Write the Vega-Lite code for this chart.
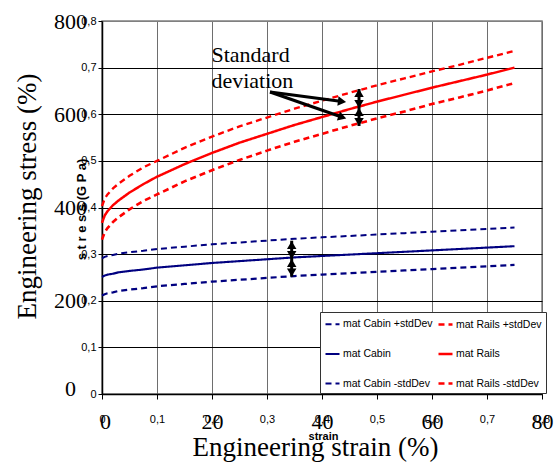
{
  "$schema": "https://vega.github.io/schema/vega-lite/v6.json",
  "width": 440,
  "height": 373,
  "autosize": {"type": "none"},
  "padding": {"left": 102, "top": 21, "right": 14, "bottom": 80},
  "background": "white",
  "config": {
    "view": {"stroke": "#808080", "strokeWidth": 1.5},
    "axis": {"labelColor": "black", "titleColor": "black", "domainColor": "black", "tickColor": "black", "gridOpacity": 1}
  },
  "resolve": {"axis": {"x": "independent", "y": "independent"}},
  "layer": [
    {
      "data": {"values": [
        {"e": 0, "mat Cabin +stdDev": 0.291, "mat Rails +stdDev": 0.403, "mat Cabin": 0.251, "mat Rails": 0.367, "mat Cabin -stdDev": 0.211, "mat Rails -stdDev": 0.331},
        {"e": 0.005, "mat Cabin +stdDev": 0.294, "mat Rails +stdDev": 0.419, "mat Cabin": 0.254, "mat Rails": 0.383, "mat Cabin -stdDev": 0.214, "mat Rails -stdDev": 0.347},
        {"e": 0.01, "mat Cabin +stdDev": 0.296, "mat Rails +stdDev": 0.428, "mat Cabin": 0.256, "mat Rails": 0.392, "mat Cabin -stdDev": 0.216, "mat Rails -stdDev": 0.356},
        {"e": 0.02, "mat Cabin +stdDev": 0.298, "mat Rails +stdDev": 0.441, "mat Cabin": 0.258, "mat Rails": 0.405, "mat Cabin -stdDev": 0.218, "mat Rails -stdDev": 0.369},
        {"e": 0.03, "mat Cabin +stdDev": 0.301, "mat Rails +stdDev": 0.451, "mat Cabin": 0.261, "mat Rails": 0.415, "mat Cabin -stdDev": 0.221, "mat Rails -stdDev": 0.379},
        {"e": 0.05, "mat Cabin +stdDev": 0.304, "mat Rails +stdDev": 0.468, "mat Cabin": 0.264, "mat Rails": 0.432, "mat Cabin -stdDev": 0.224, "mat Rails -stdDev": 0.396},
        {"e": 0.075, "mat Cabin +stdDev": 0.307, "mat Rails +stdDev": 0.486, "mat Cabin": 0.267, "mat Rails": 0.450, "mat Cabin -stdDev": 0.227, "mat Rails -stdDev": 0.414},
        {"e": 0.1, "mat Cabin +stdDev": 0.311, "mat Rails +stdDev": 0.500, "mat Cabin": 0.271, "mat Rails": 0.466, "mat Cabin -stdDev": 0.231, "mat Rails -stdDev": 0.428},
        {"e": 0.15, "mat Cabin +stdDev": 0.316, "mat Rails +stdDev": 0.528, "mat Cabin": 0.276, "mat Rails": 0.493, "mat Cabin -stdDev": 0.236, "mat Rails -stdDev": 0.456},
        {"e": 0.2, "mat Cabin +stdDev": 0.321, "mat Rails +stdDev": 0.552, "mat Cabin": 0.281, "mat Rails": 0.517, "mat Cabin -stdDev": 0.241, "mat Rails -stdDev": 0.480},
        {"e": 0.25, "mat Cabin +stdDev": 0.325, "mat Rails +stdDev": 0.574, "mat Cabin": 0.285, "mat Rails": 0.539, "mat Cabin -stdDev": 0.245, "mat Rails -stdDev": 0.502},
        {"e": 0.3, "mat Cabin +stdDev": 0.329, "mat Rails +stdDev": 0.593, "mat Cabin": 0.289, "mat Rails": 0.558, "mat Cabin -stdDev": 0.249, "mat Rails -stdDev": 0.522},
        {"e": 0.35, "mat Cabin +stdDev": 0.333, "mat Rails +stdDev": 0.612, "mat Cabin": 0.293, "mat Rails": 0.577, "mat Cabin -stdDev": 0.253, "mat Rails -stdDev": 0.541},
        {"e": 0.4, "mat Cabin +stdDev": 0.336, "mat Rails +stdDev": 0.629, "mat Cabin": 0.296, "mat Rails": 0.594, "mat Cabin -stdDev": 0.256, "mat Rails -stdDev": 0.558},
        {"e": 0.45, "mat Cabin +stdDev": 0.339, "mat Rails +stdDev": 0.646, "mat Cabin": 0.299, "mat Rails": 0.611, "mat Cabin -stdDev": 0.259, "mat Rails -stdDev": 0.575},
        {"e": 0.5, "mat Cabin +stdDev": 0.342, "mat Rails +stdDev": 0.662, "mat Cabin": 0.302, "mat Rails": 0.627, "mat Cabin -stdDev": 0.262, "mat Rails -stdDev": 0.591},
        {"e": 0.55, "mat Cabin +stdDev": 0.345, "mat Rails +stdDev": 0.677, "mat Cabin": 0.305, "mat Rails": 0.642, "mat Cabin -stdDev": 0.265, "mat Rails -stdDev": 0.606},
        {"e": 0.6, "mat Cabin +stdDev": 0.348, "mat Rails +stdDev": 0.692, "mat Cabin": 0.308, "mat Rails": 0.657, "mat Cabin -stdDev": 0.268, "mat Rails -stdDev": 0.622},
        {"e": 0.65, "mat Cabin +stdDev": 0.351, "mat Rails +stdDev": 0.706, "mat Cabin": 0.311, "mat Rails": 0.671, "mat Cabin -stdDev": 0.271, "mat Rails -stdDev": 0.636},
        {"e": 0.7, "mat Cabin +stdDev": 0.354, "mat Rails +stdDev": 0.721, "mat Cabin": 0.314, "mat Rails": 0.685, "mat Cabin -stdDev": 0.274, "mat Rails -stdDev": 0.651},
        {"e": 0.75, "mat Cabin +stdDev": 0.357, "mat Rails +stdDev": 0.736, "mat Cabin": 0.317, "mat Rails": 0.700, "mat Cabin -stdDev": 0.277, "mat Rails -stdDev": 0.667}
      ]},
      "transform": [{"fold": ["mat Cabin +stdDev", "mat Rails +stdDev", "mat Cabin", "mat Rails", "mat Cabin -stdDev", "mat Rails -stdDev"], "as": ["s", "v"]}],
      "mark": {"type": "line", "strokeCap": "butt"},
      "encoding": {
        "x": {
          "field": "e", "type": "quantitative",
          "scale": {"domain": [0, 0.8], "nice": false, "zero": false},
          "axis": {
            "orient": "bottom",
            "values": [0, 0.1, 0.2, 0.3, 0.4, 0.5, 0.6, 0.7, 0.8],
            "labelExpr": "datum.value == 0 ? '0' : replace(format(datum.value, '.1f'), '.', ',')",
            "labelFont": "Liberation Sans, Arial, sans-serif",
            "labelFontSize": 11, "labelBaseline": "middle", "labelPadding": 20,
            "labelFlush": false, "labelOverlap": false, "labelBound": false,
            "tickSize": 5, "tickWidth": 1,
            "grid": true, "gridColor": "#6e6e6e", "gridWidth": 1,
            "domainWidth": 1.5,
            "title": "strain",
            "titleFont": "Liberation Sans, Arial, sans-serif",
            "titleFontSize": 11, "titleFontWeight": "bold",
            "titleX": 221, "titleY": 42, "titleBaseline": "middle", "titleAlign": "center"
          }
        },
        "y": {
          "field": "v", "type": "quantitative",
          "scale": {"domain": [0, 0.8], "nice": false},
          "axis": {
            "orient": "left",
            "values": [0, 0.1, 0.2, 0.3, 0.4, 0.5, 0.6, 0.7, 0.8],
            "labelExpr": "datum.value == 0 ? '0' : replace(format(datum.value, '.1f'), '.', ',')",
            "labelFont": "Liberation Sans, Arial, sans-serif",
            "labelFontSize": 11, "labelPadding": 2, "labelBaseline": "middle",
            "labelFlush": false, "labelOverlap": false, "labelBound": false,
            "tickSize": 4,
            "grid": true,
            "gridColor": {"condition": {"test": "datum.value >= 0.79", "value": "#808080"}, "value": "black"},
            "gridWidth": 1,
            "domainWidth": 1.5,
            "title": "s t r e s s (G P a)",
            "titleFont": "Liberation Sans, Arial, sans-serif",
            "titleFontSize": 13, "titleFontWeight": "bold",
            "titleAngle": 270, "titleX": -21, "titleY": 188, "titleBaseline": "middle", "titleAlign": "center"
          }
        },
        "color": {
          "field": "s", "type": "nominal",
          "scale": {
            "domain": ["mat Cabin +stdDev", "mat Cabin", "mat Cabin -stdDev", "mat Rails +stdDev", "mat Rails", "mat Rails -stdDev"],
            "range": ["#000080", "#000080", "#000080", "#FF0000", "#FF0000", "#FF0000"]
          },
          "legend": {
            "title": null, "orient": "none", "legendX": 218, "legendY": 291,
            "columns": 2, "fillColor": "white", "strokeColor": "#333333", "padding": 4,
            "labelFont": "Liberation Sans, Arial, sans-serif",
            "labelFontSize": 10.5, "labelColor": "black", "labelLimit": 200, "labelOffset": 2,
            "symbolType": "stroke", "symbolSize": 196, "rowPadding": 15.5, "columnPadding": 0
          }
        },
        "strokeDash": {
          "field": "s", "type": "nominal",
          "scale": {
            "domain": ["mat Cabin +stdDev", "mat Cabin", "mat Cabin -stdDev", "mat Rails +stdDev", "mat Rails", "mat Rails -stdDev"],
            "range": [[6, 4], [1, 0], [6, 4], [6, 4], [1, 0], [6, 4]]
          }
        },
        "strokeWidth": {
          "field": "s", "type": "nominal",
          "scale": {
            "domain": ["mat Cabin +stdDev", "mat Cabin", "mat Cabin -stdDev", "mat Rails +stdDev", "mat Rails", "mat Rails -stdDev"],
            "range": [2, 2.6, 2, 1.6, 2.3, 1.6]
          }
        }
      }
    },
    {
      "data": {"values": [
        {"x": 0.199, "y": 0.712, "t": "Standard"},
        {"x": 0.199, "y": 0.656, "t": "deviation"}
      ]},
      "mark": {"type": "text", "font": "Liberation Serif, Times New Roman, serif", "fontSize": 22, "align": "left", "baseline": "alphabetic", "color": "black"},
      "encoding": {
        "x": {
          "field": "x", "type": "quantitative",
          "axis": {
            "orient": "bottom",
            "values": [0, 0.2, 0.4, 0.6, 0.8],
            "labelExpr": "format(datum.value * 100, 'd')",
            "labelFont": "Liberation Serif, Times New Roman, serif", "labelFontSize": 22,
            "labelBaseline": "middle", "labelPadding": 27,
            "labelOffset": {"condition": {"test": "datum.value == 0", "value": 3}, "value": 0},
            "labelFlush": false, "labelOverlap": false, "labelBound": false,
            "ticks": false, "domain": false, "grid": false,
            "title": "Engineering strain (%)",
            "titleFont": "Liberation Serif, Times New Roman, serif", "titleFontSize": 27, "titleFontWeight": "normal",
            "titleX": 213, "titleY": 61, "titleBaseline": "alphabetic", "titleAlign": "center"
          }
        },
        "y": {
          "field": "y", "type": "quantitative",
          "axis": {
            "orient": "left",
            "values": [0, 0.2, 0.4, 0.6, 0.8],
            "labelExpr": "format(datum.value * 1000, 'd')",
            "labelFont": "Liberation Serif, Times New Roman, serif", "labelFontSize": 22,
            "labelAlign": "center", "labelBaseline": "middle", "labelPadding": 32,
            "labelOffset": {"condition": {"test": "datum.value == 0", "value": -6}, "value": 0},
            "labelFlush": false, "labelOverlap": false, "labelBound": false,
            "ticks": false, "domain": false, "grid": false,
            "title": "Engineering stress (%)",
            "titleFont": "Liberation Serif, Times New Roman, serif", "titleFontSize": 27, "titleFontWeight": "normal",
            "titleAngle": 270, "titleX": -67, "titleY": 175, "titleBaseline": "alphabetic", "titleAlign": "center"
          }
        },
        "text": {"field": "t", "type": "nominal"}
      }
    },
    {
      "data": {"values": [
        {"x": 0.3055, "y": 0.6477, "x2": 0.4364, "y2": 0.6275},
        {"x": 0.3055, "y": 0.6477, "x2": 0.4369, "y2": 0.5935},
        {"x": 0.4673, "y": 0.6542, "x2": 0.4673, "y2": 0.5748},
        {"x": 0.3449, "y": 0.3288, "x2": 0.3449, "y2": 0.2516}
      ]},
      "mark": {"type": "rule", "color": "black", "strokeWidth": 3},
      "encoding": {
        "x": {"field": "x", "type": "quantitative", "axis": null},
        "y": {"field": "y", "type": "quantitative", "axis": null},
        "x2": {"field": "x2"},
        "y2": {"field": "y2"}
      }
    },
    {
      "data": {"values": [
        {"x": 0.4364, "y": 0.6275, "sh": "triangle-right", "a": 7},
        {"x": 0.4369, "y": 0.5935, "sh": "triangle-right", "a": 19},
        {"x": 0.4673, "y": 0.6456, "sh": "triangle-up", "a": 0},
        {"x": 0.4673, "y": 0.6220, "sh": "triangle-down", "a": 0},
        {"x": 0.4673, "y": 0.6048, "sh": "triangle-up", "a": 0},
        {"x": 0.4673, "y": 0.5834, "sh": "triangle-down", "a": 0},
        {"x": 0.3449, "y": 0.3196, "sh": "triangle-up", "a": 0},
        {"x": 0.3449, "y": 0.2981, "sh": "triangle-down", "a": 0},
        {"x": 0.3449, "y": 0.2810, "sh": "triangle-up", "a": 0},
        {"x": 0.3449, "y": 0.2606, "sh": "triangle-down", "a": 0}
      ]},
      "mark": {"type": "point", "filled": true, "color": "black", "opacity": 1, "size": 90},
      "encoding": {
        "x": {"field": "x", "type": "quantitative", "axis": null},
        "y": {"field": "y", "type": "quantitative", "axis": null},
        "shape": {"field": "sh", "type": "nominal", "scale": null},
        "angle": {"field": "a", "type": "quantitative", "scale": null}
      }
    }
  ]
}
